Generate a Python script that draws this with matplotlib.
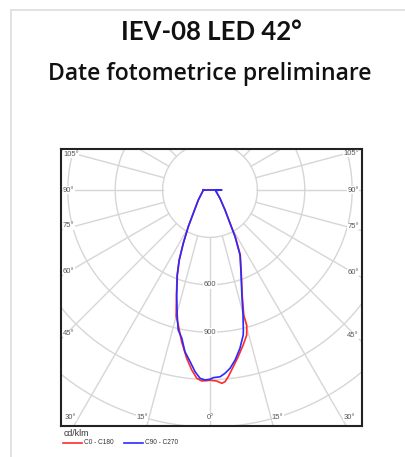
import numpy as np
import matplotlib.pyplot as plt
from matplotlib.lines import Line2D

# photometric data, angle from nadir (deg) and intensity (cd/klm)
c180_ang = [90, 49.5, 35.6, 30.6, 26.6, 23.7, 21.0, 17.6, 15.0, 13.2, 10.6, 7.9, 5.8, 4.0, 2.5, 1.0, 0]
c180_val = [42, 97, 182, 272, 380, 488, 582, 703, 828, 878, 977, 1075, 1145, 1195, 1210, 1207, 1204]
c0_ang = [0, 2.0, 3.5, 4.5, 5.6, 7.5, 9.6, 12.1, 14.2, 15.2, 15.1, 17.0, 20.2, 25.0, 28.4, 31.1, 37.0, 50.3, 85, 90]
c0_val = [1204, 1210, 1226, 1217, 1187, 1128, 1070, 1003, 947, 887, 821, 697, 575, 454, 338, 248, 158, 82, 35, 74]

c270_ang = [90, 49.5, 35.6, 30.6, 26.6, 23.7, 21.0, 17.6, 14.7, 12.8, 10.8, 8.8, 6.6, 4.7, 3.0, 1.5, 0]
c270_val = [42, 97, 182, 270, 377, 484, 577, 697, 818, 909, 954, 1036, 1094, 1154, 1194, 1203, 1198]
c90_ang = [0, 1.0, 3.1, 4.7, 6.4, 8.4, 10.7, 12.9, 13.4, 14.8, 16.9, 20.1, 24.8, 28.2, 31.0, 36.9, 50.3, 85, 90]
c90_val = [1198, 1188, 1184, 1164, 1136, 1088, 1020, 942, 911, 818, 694, 573, 453, 335, 246, 158, 82, 35, 74]

rings = [300, 600, 900, 1200, 1500]
ring_labels = [600, 900]
side_ticks = [45, 60, 75, 90, 105]
bottom_ticks = [0, 15, 30]

W, H = 406, 457
k = 6.33  # cd/klm per pixel
cx, cy = 210, 190

def to_xy(left_ang, left_val, right_ang, right_val):
    la = np.radians(left_ang)
    ra = np.radians(right_ang)
    x = np.concatenate([-np.array(left_val) * np.sin(la), np.array(right_val) * np.sin(ra)])
    y = np.concatenate([-np.array(left_val) * np.cos(la), -np.array(right_val) * np.cos(ra)])
    # close the curve across the centre at 90°
    return np.append(x, x[0]), np.append(y, y[0])

fig = plt.figure(figsize=(W / 100, H / 100), dpi=100)

# card border
fig.add_artist(Line2D([11 / W, 11 / W], [0, 1 - 10 / H], color='#dddddd', lw=1.2))
fig.add_artist(Line2D([11 / W, 1], [1 - 10 / H, 1 - 10 / H], color='#dddddd', lw=1.2))

fig.text(211 / W, 1 - 31.5 / H, 'IEV-08 LED 42°', ha='center', va='center',
         fontsize=18.5, fontweight='bold', family='Lato', color='#111111')
fig.text(210 / W, 1 - 74 / H, 'Date fotometrice preliminare', ha='center', va='center',
         fontsize=16.6, fontweight='semibold', fontstretch='normal', family='Open Sans',
         color='#111111')

x0, x1, y0, y1 = 61, 362, 149, 426
ax = fig.add_axes([x0 / W, 1 - y1 / H, (x1 - x0) / W, (y1 - y0) / H])
ax.set_xlim((x0 - cx) * k, (x1 - cx) * k)
ax.set_ylim((cy - y1) * k, (cy - y0) * k)
ax.set_xticks([])
ax.set_yticks([])
for s in ax.spines.values():
    s.set_linewidth(1.5)
    s.set_color('#222222')

grid = dict(color='#d6d6d6', lw=1.0, zorder=1)
t = np.linspace(0, 2 * np.pi, 400)
for r in rings:
    ax.plot(r * np.cos(t), r * np.sin(t), **grid)
for a in np.arange(0, 360, 15):
    ar = np.radians(a)
    ax.plot([300 * np.sin(ar), 3000 * np.sin(ar)], [-300 * np.cos(ar), -3000 * np.cos(ar)], **grid)

lab = dict(fontsize=5.5, color='#555555', family='Liberation Sans', zorder=3,
           bbox=dict(facecolor='white', edgecolor='none', pad=0.3))
for r in ring_labels:
    ax.text(0, -r, str(r), ha='center', va='center', **lab)

for a in side_ticks:
    for side in (-1, 1):
        px = 63 if side < 0 else 359
        X = abs(px - cx) * k
        yy = 0 if a == 90 else -X / np.tan(np.radians(a))
        va = 'center' if a == 90 else ('bottom' if a < 90 else 'top')
        ax.text((px - cx) * k, yy, f'{a}°', ha='left' if side < 0 else 'right', va=va, **lab)

Y = (421 - cy) * k
for a in bottom_ticks:
    for side in ((-1, 1) if a else (1,)):
        xx = side * Y * np.tan(np.radians(a))
        ha = 'center' if a == 0 else ('right' if side < 0 else 'left')
        ax.text(xx, -Y, f'{a}°', ha=ha, va='bottom', **lab)

xr, yr = to_xy(c180_ang, c180_val, c0_ang, c0_val)
ax.plot(xr, yr, color='#ff2a2a', lw=1.2, zorder=4)
xb, yb = to_xy(c270_ang, c270_val, c90_ang, c90_val)
ax.plot(xb, yb, color='#2a2aff', lw=1.2, zorder=5)

# legend under the chart
fig.text(64 / W, 1 - 434 / H, 'cd/klm', ha='left', va='center', fontsize=6.3,
         family='Liberation Sans', color='#333333')
ly = 1 - 443 / H
fig.add_artist(Line2D([63 / W, 82 / W], [ly, ly], color='#ff2a2a', lw=1.2))
fig.text(84 / W, ly, 'C0 - C180', ha='left', va='center', fontsize=4.7,
         family='Liberation Sans', color='#333333')
fig.add_artist(Line2D([124 / W, 143 / W], [ly, ly], color='#2a2aff', lw=1.2))
fig.text(145 / W, ly, 'C90 - C270', ha='left', va='center', fontsize=4.7,
         family='Liberation Sans', color='#333333')

fig.savefig('out.png', dpi=100)
